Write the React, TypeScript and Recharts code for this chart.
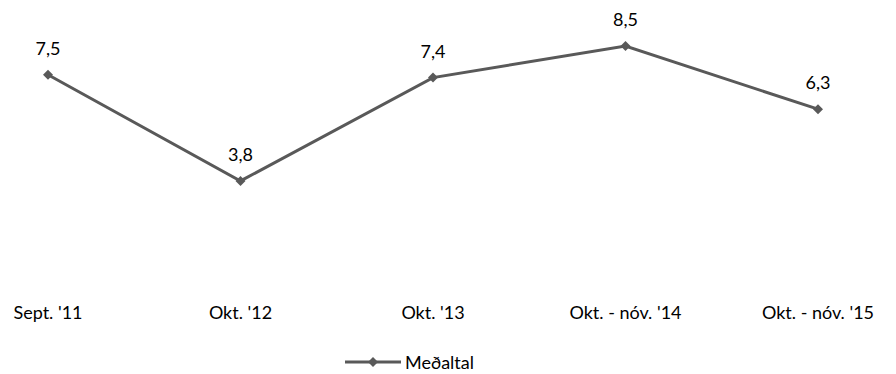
import { LineChart, Line, XAxis, YAxis, Legend, LabelList } from 'recharts'

const periods = ["Sept. '11", "Okt. '12", "Okt. '13", "Okt. - nóv. '14", "Okt. - nóv. '15"]
const averages = [7.5, 3.8, 7.4, 8.5, 6.3]

const data = periods.map((p, i) => ({ period: p, value: averages[i] }))

const LINE = '#595959'
const FONT = 'Lato, "Open Sans", sans-serif'

function Diamond(props: any) {
  const { cx, cy } = props
  if (cx == null || cy == null) return null
  const r = 5
  return <polygon points={`${cx},${cy - r} ${cx + r},${cy} ${cx},${cy + r} ${cx - r},${cy}`} fill={LINE} />
}

function LegendBox() {
  return (
    <div style={{ display: 'flex', alignItems: 'center', marginLeft: 345, fontFamily: FONT, fontSize: 18, color: '#000' }}>
      <svg width={56} height={12}>
        <line x1={0} y1={6} x2={56} y2={6} stroke={LINE} strokeWidth={3} />
        <polygon points="28,1 33,6 28,11 23,6" fill={LINE} />
      </svg>
      <span style={{ marginLeft: 4 }}>Meðaltal</span>
    </div>
  )
}

export default function App() {
  return (
    <div style={{ width: 896, height: 374, background: '#fff' }}>
      <style>{`body{margin:0}`}</style>
      <LineChart width={896} height={374} data={data} margin={{ top: 3, right: 78, bottom: 54, left: 48 }}>
        <XAxis
          dataKey="period"
          axisLine={false}
          tickLine={false}
          tickSize={0}
          tickMargin={16}
          interval={0}
          tick={{ fill: '#000', fontSize: 18, fontFamily: FONT }}
        />
        <YAxis hide domain={[0, 10]} />
        <Legend verticalAlign="middle" wrapperStyle={{ top: 351, left: 0, width: 896 }} content={() => <LegendBox />} />
        <Line
          dataKey="value"
          name="Meðaltal"
          stroke={LINE}
          strokeWidth={3}
          dot={<Diamond />}
          activeDot={false}
          isAnimationActive={false}
        >
          <LabelList
            dataKey="value"
            position="top"
            offset={20}
            formatter={(v: any) => String(v).replace('.', ',')}
            style={{ fill: '#000', fontSize: 18, fontFamily: FONT }}
          />
        </Line>
      </LineChart>
    </div>
  )
}
